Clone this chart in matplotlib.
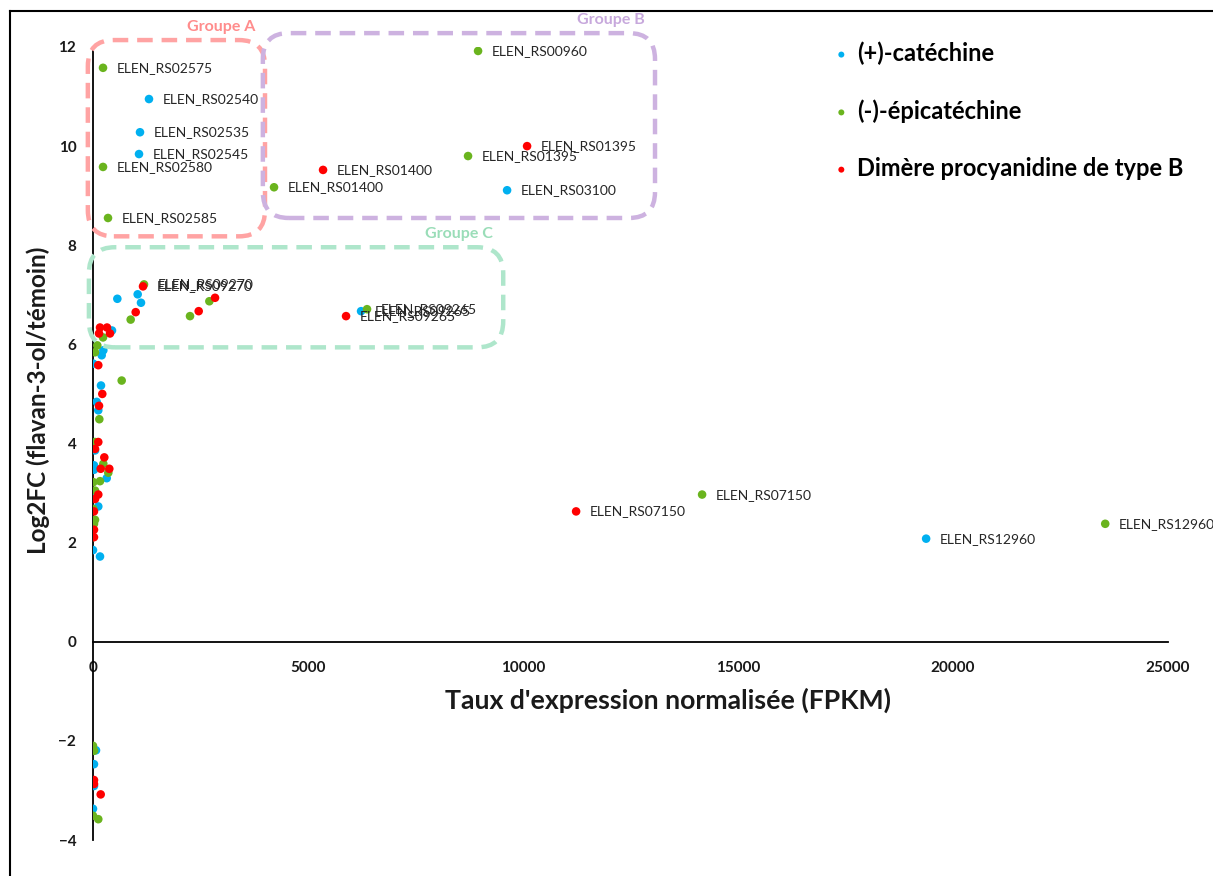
import numpy as np
import matplotlib
matplotlib.use('Agg')
import matplotlib.pyplot as plt
from matplotlib.patches import FancyBboxPatch
from matplotlib.lines import Line2D
from matplotlib.transforms import IdentityTransform

plt.rcParams['font.family'] = ['Lato', 'DejaVu Sans']

# (+)-catéchine : labelled genes, then the rest
cat_lab_x = [1302, 1093, 1070, 9630, 6234, 19375]
cat_lab_y = [10.95, 10.28, 9.84, 9.11, 6.67, 2.08]
cat_lab_names = ['ELEN_RS02540', 'ELEN_RS02535', 'ELEN_RS02545', 'ELEN_RS03100',
                 'ELEN_RS09265', 'ELEN_RS12960']
cat_x = [566, 1039, 1116, 442, 240, 202, 8, 186, 86, 123, 47, 23, 23, 319, 0, 123,
         0, 163, 70, 23, 23, 0]
cat_y = [6.92, 7.01, 6.84, 6.28, 5.88, 5.78, 5.61, 5.17, 4.84, 4.67, 3.86, 3.56, 3.47,
         3.30, 2.93, 2.73, 1.85, 1.72, -2.19, -2.47, -2.91, -3.37]

# (-)-épicatéchine
epi_lab_x = [233, 233, 349, 8955, 8722, 4210, 1186, 6373, 14165, 23540]
epi_lab_y = [11.58, 9.58, 8.55, 11.92, 9.80, 9.17, 7.21, 6.71, 2.97, 2.38]
epi_lab_names = ['ELEN_RS02575', 'ELEN_RS02580', 'ELEN_RS02585', 'ELEN_RS00960',
                 'ELEN_RS01395', 'ELEN_RS01400', 'ELEN_RS09270', 'ELEN_RS09265',
                 'ELEN_RS07150', 'ELEN_RS12960']
epi_x = [876, 2256, 2706, 233, 100, 47, 667, 147, 47, 240, 356, 7, 163, 47, 7, 47,
         23, 0, 0, 23, 0, 123]
epi_y = [6.50, 6.57, 6.87, 6.14, 5.98, 5.84, 5.27, 4.49, 4.03, 3.59, 3.41, 3.22, 3.24,
         3.05, 2.68, 2.46, 2.38, 2.11, -2.10, -2.20, -3.51, -3.58]

# Dimère procyanidine de type B
dim_lab_x = [10095, 5350, 1163, 5885, 11235]
dim_lab_y = [10.00, 9.52, 7.17, 6.57, 2.63]
dim_lab_names = ['ELEN_RS01395', 'ELEN_RS01400', 'ELEN_RS09270', 'ELEN_RS09265',
                 'ELEN_RS07150']
dim_x = [993, 2458, 2838, 163, 326, 140, 395, 123, 216, 140, 123, 47, 263, 179, 379,
         123, 47, 23, 23, 23, 23, 23, 179]
dim_y = [6.65, 6.67, 6.94, 6.34, 6.34, 6.22, 6.22, 5.58, 5.00, 4.76, 4.03, 3.89, 3.72,
         3.49, 3.49, 2.97, 2.88, 2.63, 2.26, 2.11, -2.79, -2.87, -3.08]

series = [
    ('(+)-catéchine', '#00B0F0', cat_x, cat_y, cat_lab_x, cat_lab_y, cat_lab_names),
    ('(-)-épicatéchine', '#6AB41E', epi_x, epi_y, epi_lab_x, epi_lab_y, epi_lab_names),
    ('Dimère procyanidine de type B', '#FF0000', dim_x, dim_y, dim_lab_x, dim_lab_y,
     dim_lab_names),
]

# gene groups: (name, x0, x1, y0, y1, colour of the frame, colour of the title)
groups = [
    ('Groupe A', -120, 4000, 8.18, 12.14, '#FFA3A3', '#FF8C8C'),
    ('Groupe B', 3950, 13070, 8.55, 12.28, '#CDB2E0', '#C7A8DC'),
    ('Groupe C', -95, 9540, 5.94, 7.96, '#AEE6CB', '#9ADDB8'),
]

W, H, DPI = 1213, 876, 100
fig = plt.figure(figsize=(W / DPI, H / DPI), dpi=DPI)
ax = fig.add_axes([93 / W, 1 - 840 / H, 1075 / W, 793 / H])

for name, col, x, y, lx, ly, names in series:
    ax.scatter(list(x) + list(lx), list(y) + list(ly), s=38, color=col,
               edgecolors='none', label=name, zorder=3)
    for xi, yi, n in zip(lx, ly, names):
        ax.annotate(n, (xi, yi), xytext=(10, 0), textcoords='offset points',
                    va='center', ha='left', fontsize=10, color='#262626', zorder=4)

ax.set_xlim(0, 25000)
ax.set_ylim(-4, 12)
ax.set_xticks(np.arange(0, 25001, 5000))
ax.set_yticks(np.arange(-4, 13, 2))
ax.spines['left'].set_position(('data', 0))
ax.spines['bottom'].set_position(('data', 0))
ax.spines['top'].set_visible(False)
ax.spines['right'].set_visible(False)
for sp in ('left', 'bottom'):
    ax.spines[sp].set_linewidth(1.3)
ax.tick_params(length=0, labelsize=11)
ax.tick_params(axis='x', pad=14)
ax.tick_params(axis='y', pad=12)
for lab in ax.get_xticklabels() + ax.get_yticklabels():
    lab.set_fontweight('bold')
    lab.set_color('#1a1a1a')

fig.text(668 / W, 1 - 700 / H, "Taux d'expression normalisée (FPKM)", ha='center',
         va='center', fontsize=19.2, fontweight='bold', color='#1a1a1a')
fig.text(38 / W, 1 - 400 / H, 'Log2FC (flavan-3-ol/témoin)', ha='center', va='center',
         rotation=90, fontsize=17.5, fontweight='bold', color='#1a1a1a')

leg = ax.legend(loc='upper left', bbox_to_anchor=(813 / W, 1 - 20 / H),
                bbox_transform=fig.transFigure, frameon=False, markerscale=0.7,
                handlelength=0.6, handletextpad=0.35, labelspacing=1.45,
                prop={'size': 17, 'weight': 'bold'})

# rounded dashed frames around the gene groups, drawn in pixel space
fig.canvas.draw()
for name, x0, x1, y0, y1, fc, tc in groups:
    (px0, py0), (px1, py1) = ax.transData.transform([(x0, y0), (x1, y1)])
    box = FancyBboxPatch((px0, py0), px1 - px0, py1 - py0,
                         boxstyle='round,pad=0,rounding_size=26', fill=False,
                         edgecolor=fc, linewidth=3.2, linestyle=(0, (3.5, 2)),
                         transform=IdentityTransform(), zorder=5)
    fig.add_artist(box)
    fig.text((px1 - 44) / W, (py1 + 13) / H, name, ha='center', va='center',
             fontsize=11.5, fontweight='bold', color=tc)

# chart border (left and top edges)
fig.add_artist(Line2D([10 / W, 10 / W], [0, 1 - 11 / H], transform=fig.transFigure,
                      color='black', linewidth=1.5))
fig.add_artist(Line2D([10 / W, 1], [1 - 11 / H, 1 - 11 / H], transform=fig.transFigure,
                      color='black', linewidth=1.5))

fig.savefig('out.png', dpi=DPI)
